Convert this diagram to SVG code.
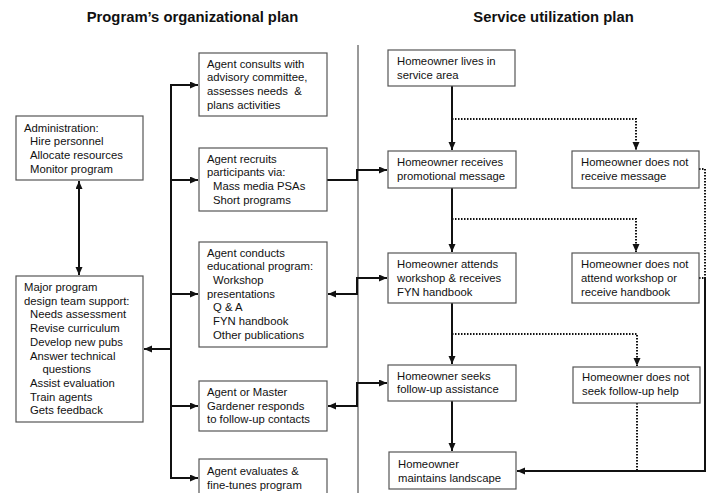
<svg xmlns="http://www.w3.org/2000/svg" width="713" height="493" viewBox="0 0 713 493">
<style>
.bg{fill:#fff}
.box{fill:#fff;stroke:#555;stroke-width:1.2}
.t{font-family:"Liberation Sans",Arial,sans-serif;font-size:11.3px;fill:#111}
.title{font-family:"Liberation Sans",Arial,sans-serif;font-size:14.8px;font-weight:bold;fill:#111;text-anchor:middle}
.c{fill:none;stroke:#111;stroke-width:2}
.d{fill:none;stroke:#111;stroke-width:2;stroke-dasharray:1.5 1.5}
.div{stroke:#999;stroke-width:2}
</style>
<defs>
<marker id="ah" markerUnits="userSpaceOnUse" markerWidth="9" markerHeight="8" refX="8" refY="3.5" orient="auto-start-reverse">
<path d="M0,0 L8,3.5 L0,7 z" fill="#111"/>
</marker>
</defs>
<rect class="bg" x="0" y="0" width="713" height="493"/>
<text class="title" x="192.5" y="22">Program’s organizational plan</text>
<text class="title" x="553.5" y="22">Service utilization plan</text>
<line class="div" x1="358" y1="45" x2="358" y2="493"/>

<g id="connectors">
<line class="c" x1="79" y1="181" x2="79" y2="275" marker-start="url(#ah)" marker-end="url(#ah)"/>
<line class="c" x1="171" y1="84" x2="171" y2="479"/>
<path class="c" d="M171,85 H198" marker-end="url(#ah)"/>
<path class="c" d="M171,180 H198" marker-end="url(#ah)"/>
<path class="c" d="M171,294 H198" marker-end="url(#ah)"/>
<path class="c" d="M171,349 H144" marker-end="url(#ah)"/>
<path class="c" d="M171,406 H198" marker-end="url(#ah)"/>
<path class="c" d="M171,478 H198" marker-end="url(#ah)"/>
<path class="c" d="M327,180 H357 V170 H387" marker-end="url(#ah)"/>
<path class="c" d="M328,294 H357 V278 H387" marker-start="url(#ah)" marker-end="url(#ah)"/>
<path class="c" d="M328,406 H357 V383 H387" marker-start="url(#ah)" marker-end="url(#ah)"/>
<path class="c" d="M452,86 V150" marker-end="url(#ah)"/>
<path class="d" d="M452,119 H636 V150" marker-end="url(#ah)"/>
<path class="c" d="M452,188 V252" marker-end="url(#ah)"/>
<path class="d" d="M452,219 H636 V252" marker-end="url(#ah)"/>
<path class="c" d="M452,303 V364" marker-end="url(#ah)"/>
<path class="d" d="M452,334 H637 V366" marker-end="url(#ah)"/>
<path class="c" d="M452,401 V451" marker-end="url(#ah)"/>
<path class="d" d="M637,403 V470"/>
<path class="d" d="M699,169 H705 V278"/>
<path class="d" d="M699,278 H705"/>
<path class="c" d="M705,278 V471 H517" marker-end="url(#ah)"/>
</g>

<g id="admin">
<rect class="box" x="16" y="116" width="127" height="64"/>
<text class="t" x="24" y="131.5">Administration:</text>
<text class="t" x="30" y="145.2">Hire personnel</text>
<text class="t" x="30" y="158.9">Allocate resources</text>
<text class="t" x="30" y="172.6">Monitor program</text>
</g>

<g id="major">
<rect class="box" x="16" y="276" width="127" height="146"/>
<text class="t" x="24" y="291">Major program</text>
<text class="t" x="24" y="304.7">design team support:</text>
<text class="t" x="30" y="318.4">Needs assessment</text>
<text class="t" x="30" y="332.1">Revise curriculum</text>
<text class="t" x="30" y="345.8">Develop new pubs</text>
<text class="t" x="30" y="359.5">Answer technical</text>
<text class="t" x="42.5" y="373.2">questions</text>
<text class="t" x="30" y="386.9">Assist evaluation</text>
<text class="t" x="30" y="400.6">Train agents</text>
<text class="t" x="30" y="414.3">Gets feedback</text>
</g>

<g id="consult">
<rect class="box" x="199" y="53" width="128" height="63"/>
<text class="t" x="207" y="67.7">Agent consults with</text>
<text class="t" x="207" y="81.4">advisory committee,</text>
<text class="t" x="207" y="95.1">assesses needs&#160; &amp;</text>
<text class="t" x="207" y="108.8">plans activities</text>
</g>

<g id="recruit">
<rect class="box" x="199" y="148" width="128" height="63"/>
<text class="t" x="207" y="162.7">Agent recruits</text>
<text class="t" x="207" y="176.4">participants via:</text>
<text class="t" x="213" y="190.1">Mass media PSAs</text>
<text class="t" x="213" y="203.8">Short programs</text>
</g>

<g id="educate">
<rect class="box" x="199" y="242" width="128" height="105"/>
<text class="t" x="207" y="256.5">Agent conducts</text>
<text class="t" x="207" y="270.2">educational program:</text>
<text class="t" x="213" y="283.9">Workshop</text>
<text class="t" x="207" y="297.6">presentations</text>
<text class="t" x="213" y="311.3">Q &amp; A</text>
<text class="t" x="213" y="325">FYN handbook</text>
<text class="t" x="213" y="338.7">Other publications</text>
</g>

<g id="respond">
<rect class="box" x="199" y="381" width="128" height="50"/>
<text class="t" x="207" y="396">Agent or Master</text>
<text class="t" x="207" y="409.7">Gardener responds</text>
<text class="t" x="207" y="423.4">to follow-up contacts</text>
</g>

<g id="evaluate">
<rect class="box" x="199" y="459" width="128" height="40"/>
<text class="t" x="207" y="475">Agent evaluates &amp;</text>
<text class="t" x="207" y="488.7">fine-tunes program</text>
</g>

<g id="lives">
<rect class="box" x="388" y="50" width="127" height="36"/>
<text class="t" x="397" y="65">Homeowner lives in</text>
<text class="t" x="397" y="78.7">service area</text>
</g>

<g id="receives">
<rect class="box" x="388" y="151" width="128" height="37"/>
<text class="t" x="397" y="166">Homeowner receives</text>
<text class="t" x="397" y="179.7">promotional message</text>
</g>

<g id="notreceive">
<rect class="box" x="572" y="151" width="127" height="37"/>
<text class="t" x="581" y="166">Homeowner does not</text>
<text class="t" x="581" y="179.7">receive message</text>
</g>

<g id="attends">
<rect class="box" x="388" y="253" width="128" height="50"/>
<text class="t" x="397" y="268.3">Homeowner attends</text>
<text class="t" x="397" y="282">workshop &amp; receives</text>
<text class="t" x="397" y="295.7">FYN handbook</text>
</g>

<g id="notattend">
<rect class="box" x="572" y="253" width="127" height="50"/>
<text class="t" x="581" y="268.3">Homeowner does not</text>
<text class="t" x="581" y="282">attend workshop or</text>
<text class="t" x="581" y="295.7">receive handbook</text>
</g>

<g id="seeks">
<rect class="box" x="388" y="365" width="128" height="36"/>
<text class="t" x="397" y="379.5">Homeowner seeks</text>
<text class="t" x="397" y="393.2">follow-up assistance</text>
</g>

<g id="notseek">
<rect class="box" x="573" y="367" width="127" height="36"/>
<text class="t" x="582" y="381.3">Homeowner does not</text>
<text class="t" x="582" y="395">seek follow-up help</text>
</g>

<g id="maintains">
<rect class="box" x="389" y="452" width="127" height="37"/>
<text class="t" x="398" y="468.3">Homeowner</text>
<text class="t" x="398" y="482.3">maintains landscape</text>
</g>
</svg>
